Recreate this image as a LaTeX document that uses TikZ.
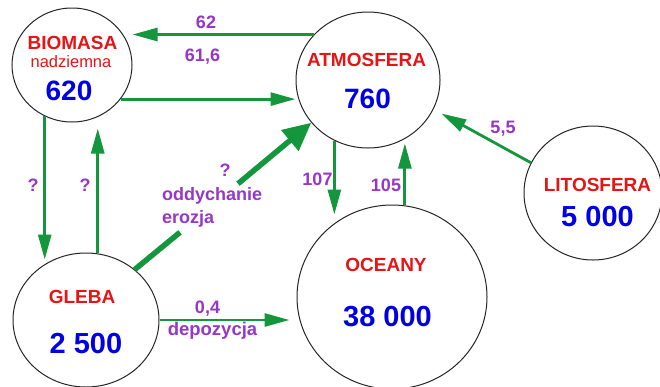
\documentclass[tikz,border=0pt]{standalone}
\usepackage{fontspec}
\setmainfont{Liberation Sans}
\usetikzlibrary{arrows.meta,shapes.geometric}
\definecolor{arrgreen}{RGB}{20,150,60}
\definecolor{lblpurple}{RGB}{150,55,200}
\definecolor{namered}{RGB}{230,20,20}
\definecolor{valblue}{RGB}{0,0,230}
\tikzset{
  blob/.style={draw=black!85, line width=1pt, ellipse, inner sep=0pt},
  flow/.style={draw=arrgreen, line width=2.8pt, -{Triangle[length=25pt,width=13pt]}},
  bigflow/.style={draw=arrgreen, line width=5.5pt},
  bigflowtip/.style={bigflow, -{Triangle[length=28pt,width=26pt]}},
  nm/.style={text=namered, font=\fontsize{19}{19}\selectfont\bfseries, inner sep=0pt, anchor=base},
  val/.style={text=valblue, font=\fontsize{29}{29}\selectfont\bfseries, inner sep=0pt, anchor=base},
  lbl/.style={text=lblpurple, font=\fontsize{18}{18}\selectfont\bfseries, inner sep=0pt, anchor=base},
}
\begin{document}
\begin{tikzpicture}[x=1pt,y=-1pt]
\useasboundingbox[fill=white] (0,0) rectangle (660,386);

% reservoirs
\node[blob, minimum width=120pt, minimum height=114pt] (bio) at (72,65) {};
\node[blob, minimum width=144pt, minimum height=136pt] (atm) at (368,80) {};
\node[blob, minimum width=138pt, minimum height=134pt] (lit) at (593,193) {};
\node[blob, minimum width=190pt, minimum height=184pt] (oce) at (392,297) {};
\node[blob, minimum width=146pt, minimum height=134pt] (gle) at (86,320) {};

% names and values
\node[nm] (bioN) at (72.5,49.5) {BIOMASA};
\node[text=namered, font=\fontsize{16.5}{16.5}\selectfont, inner sep=0pt, anchor=base] (bioS) at (71,67) {nadziemna};
\node[val, font=\fontsize{28}{28}\selectfont\bfseries] (bioV) at (69,100) {620};
\node[nm] (atmN) at (366.5,66.7) {ATMOSFERA};
\node[val, font=\fontsize{28}{28}\selectfont\bfseries] (atmV) at (367.5,108) {760};
\node[nm] (litN) at (597.5,191.7) {LITOSFERA};
\node[val] (litV) at (597.5,226.7) {5 000};
\node[nm] (oceN) at (386,271.7) {OCEANY};
\node[val] (oceV) at (387.5,326.7) {38 000};
\node[nm] (gleN) at (82,303.3) {GLEBA};
\node[val] (gleV) at (86,353.3) {2 500};

% flow labels
\node[lbl] (l62) at (206,28.3) {62};
\node[lbl] (l616) at (202.5,61.7) {61,6};
\node[lbl] (lq1) at (33,191.7) {?};
\node[lbl] (lq2) at (85,191.7) {?};
\node[lbl] (lq3) at (225,176.7) {?};
\node[lbl, anchor=base west] (lodd) at (162,200) {oddychanie};
\node[lbl, anchor=base west] (lero) at (162,223) {erozja};
\node[lbl] (l107) at (317.5,185) {107};
\node[lbl] (l105) at (386,191) {105};
\node[lbl] (l55) at (503,133.3) {5,5};
\node[lbl] (l04) at (207.5,313.3) {0,4};
\node[lbl, font=\fontsize{18.5}{18.5}\selectfont\bfseries] (ldep) at (212.5,335) {depozycja};

% connectors
\coordinate (gapA) at (180,232.3);
\coordinate (gapB) at (238,183.7);

\draw[flow] (atm.140) -- (bio.east |- atm.140);
\draw[flow] (bio.-35) -- (atm.west |- bio.-35);
\draw[flow, shorten >=-7pt] (bio.242) -- (bio.242 |- gle.north);
\draw[flow, shorten >=6pt] (gle.80) -- (gle.80 |- bio.south);
\draw[bigflow] (gle.46) -- (gapA);
\draw[bigflowtip] (gapB) -- (atm.217);
\draw[flow, shorten >=-10pt] (atm.241) -- (atm.241 |- oce.north);
\draw[flow, shorten >=-5pt] (oce.82.5) -- (oce.82.5 |- atm.south);
\draw[flow, shorten >=9pt] (lit.154) -- (atm.-24);
\draw[flow, shorten >=7pt] (gle.east) -- (oce.west |- gle.east);
\end{tikzpicture}
\end{document}
